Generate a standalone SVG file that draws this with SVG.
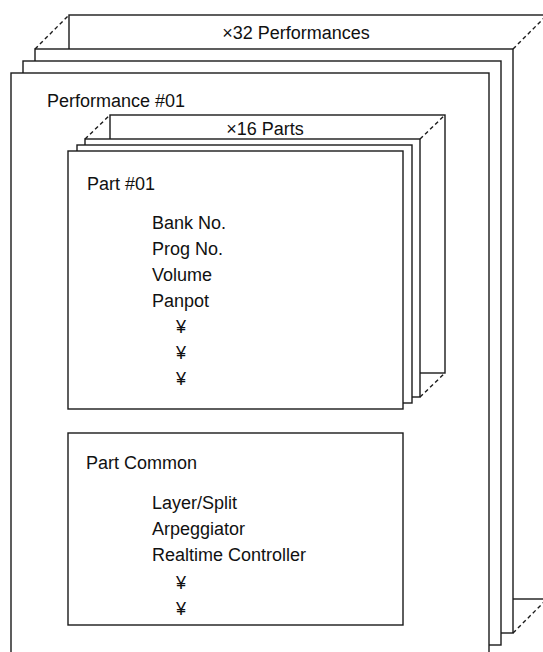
<svg xmlns="http://www.w3.org/2000/svg" width="543" height="652" viewBox="0 0 543 652">
<style>
.box{fill:#fff;stroke:#1a1a1a;stroke-width:1.4}
.dash{fill:none;stroke:#1a1a1a;stroke-width:1.4;stroke-dasharray:4 3}
text{font-family:"Liberation Sans",Arial,sans-serif;font-size:18px;fill:#111}
</style>
<rect width="543" height="652" fill="#fff"/>
<g id="performances-stack">
<rect class="box" x="69" y="15" width="478" height="584"/>
<text x="296" y="39" text-anchor="middle">×32 Performances</text>
<rect class="box" x="35" y="49" width="478" height="584"/>
<rect class="box" x="23" y="61" width="478" height="584"/>
</g>
<g id="performance-01">
<rect class="box" x="11" y="73" width="478" height="600"/>
<text x="47" y="107">Performance #01</text>
</g>
<g id="parts-stack">
<rect class="box" x="110" y="115" width="335" height="258"/>
<text x="265" y="135" text-anchor="middle">×16 Parts</text>
<rect class="box" x="85" y="139" width="335" height="258"/>
<rect class="box" x="77" y="145" width="335" height="258"/>
</g>
<g id="part-01">
<rect class="box" x="68" y="151" width="335" height="258"/>
<text x="87" y="190">Part #01</text>
<text x="152" y="229">Bank No.</text>
<text x="152" y="255">Prog No.</text>
<text x="152" y="281">Volume</text>
<text x="152" y="307">Panpot</text>
<text x="176" y="333">¥</text>
<text x="176" y="359">¥</text>
<text x="176" y="385">¥</text>
</g>
<g id="part-common">
<rect class="box" x="68" y="433" width="335" height="192"/>
<text x="86" y="469">Part Common</text>
<text x="152" y="509">Layer/Split</text>
<text x="152" y="535">Arpeggiator</text>
<text x="152" y="561">Realtime Controller</text>
<text x="176" y="589">¥</text>
<text x="176" y="615">¥</text>
</g>
<g id="connectors">
<line class="dash" x1="35" y1="49" x2="69" y2="15"/>
<line class="dash" x1="513" y1="49" x2="547" y2="15"/>
<line class="dash" x1="513" y1="633" x2="547" y2="599"/>
<line class="dash" x1="85" y1="139" x2="110" y2="115"/>
<line class="dash" x1="420" y1="139" x2="445" y2="115"/>
<line class="dash" x1="420" y1="397" x2="445" y2="373"/>
</g>
</svg>
